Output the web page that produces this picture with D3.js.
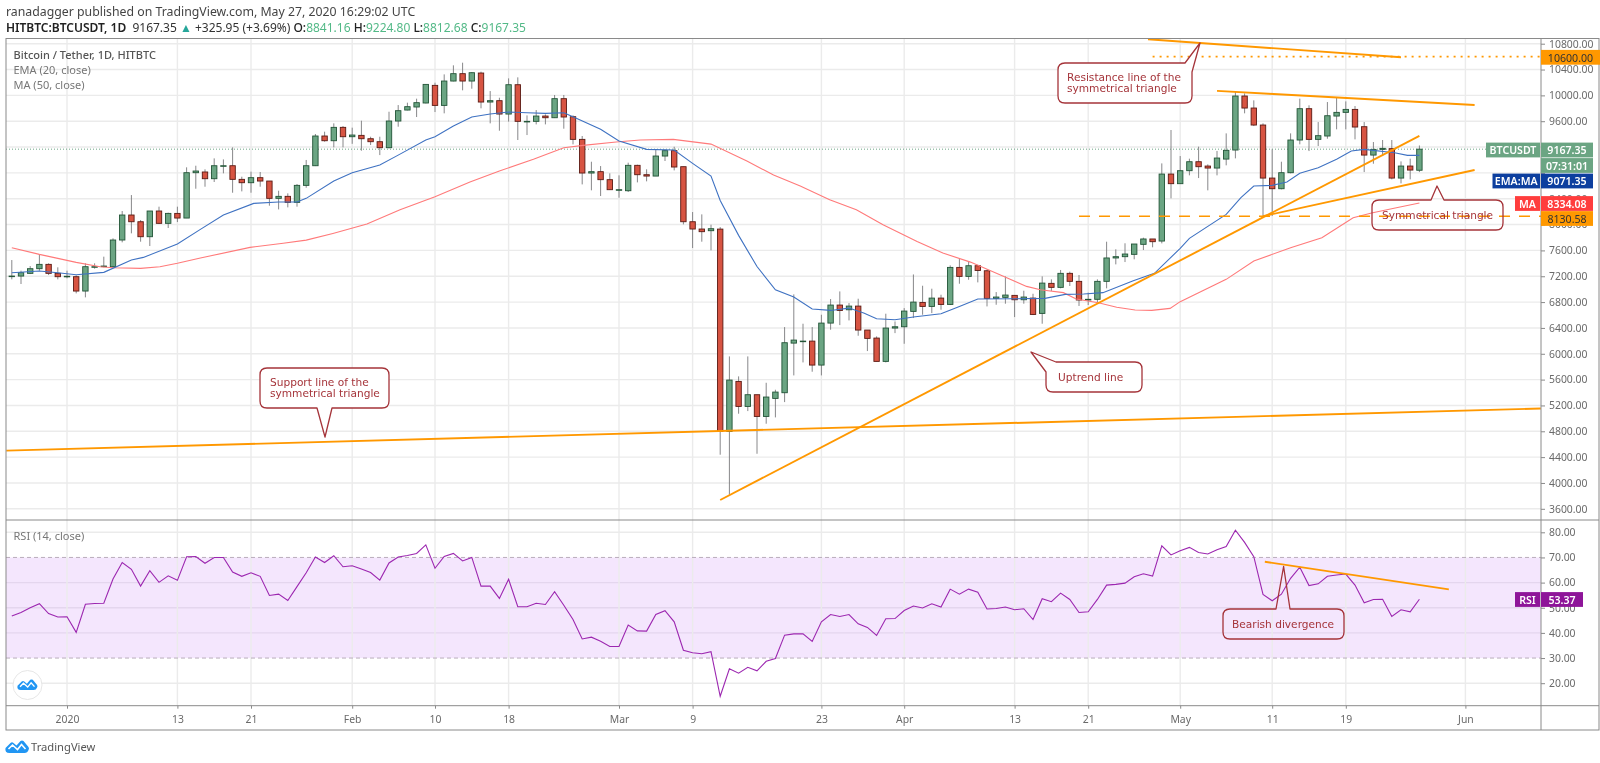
<!DOCTYPE html>
<html><head><meta charset="utf-8">
<script src="https://cdn.jsdelivr.net/npm/d3@7/dist/d3.min.js"></script>
<style>html,body{margin:0;padding:0;background:#fff}svg{display:block;filter:blur(.3px)}</style>
</head><body><svg id="c" width="1600" height="763"></svg>
<script>
// ---- Data. Day 0 is 1 Jan 2020; the first candle is day -6.
const firstDay = -6;
const opens = [7203,7203,7245,7317,7384,7245,7193,7193,6971,7348,7350,7348,7761,8148,8044,7812,8210,8019,8173,8101,8803,8814,8710,8911,8911,8700,8648,8726,8674,8406,8437,8344,8607,8911,9371,9298,9505,9360,9381,9329,9283,9190,9603,9773,9820,9882,10155,9845,10222,10336,10222,10346,9897,9918,9711,10165,9598,9598,9680,9654,9949,9670,9319,8798,8819,8695,8535,8524,8917,8772,8751,9061,9144,8896,8044,7931,7905,7930,4798,5572,5185,5366,5030,5309,5397,6165,6196,6196,5825,6475,6754,6681,6738,6367,6243,5882,6398,6418,6656,6795,6733,6862,6764,7337,7198,7363,7285,6857,6873,6904,6836,6862,6625,7090,7028,7245,7121,6832,6843,7121,7483,7503,7539,7694,7777,7745,8782,8633,8834,8973,8906,8875,9014,9154,9990,9804,9541,8720,8555,8803,9309,9794,9319,9371,9680,9737,9783,9515,9076,9164,9175,8720,8906,8841];
const closes = [7203,7255,7317,7384,7245,7193,7200,6971,7348,7348,7358,7761,8148,8044,7812,8210,8019,8173,8101,8803,8829,8710,8911,8911,8700,8648,8726,8674,8406,8437,8344,8607,8911,9371,9298,9505,9360,9386,9329,9283,9190,9603,9763,9825,9887,10170,9845,10222,10336,10222,10351,9897,9918,9711,10165,9598,9598,9680,9654,9949,9665,9319,8798,8819,8695,8540,8540,8917,8772,8751,9061,9144,8891,8044,7931,7890,7936,4798,5593,5185,5366,5030,5330,5407,6171,6212,6196,5825,6475,6754,6671,6738,6367,6238,5882,6398,6418,6661,6800,6733,6862,6764,7337,7198,7363,7290,6857,6878,6909,6836,6878,6609,7094,7028,7245,7121,6832,6843,7121,7483,7503,7544,7699,7777,7735,8782,8633,8834,8973,8896,8875,9030,9149,9990,9804,9541,8720,8555,8803,9309,9794,9319,9376,9685,9737,9783,9510,9076,9164,9180,8720,8906,8844,9167.35];
const highs = [7451,7286,7358,7544,7400,7338,7286,7214,7400,7400,7503,7787,8210,8457,8070,8210,8277,8184,8277,8886,8911,8855,9025,9009,9195,8741,8819,8814,8674,8524,8483,8628,9000,9402,9438,9567,9525,9500,9608,9360,9360,9747,9850,9887,9949,10170,10196,10325,10465,10506,10361,10367,10067,9964,10263,10279,9690,9773,9706,10006,10006,9691,9371,8973,8906,8793,8762,8958,8927,8855,9164,9164,9205,8896,8194,8158,7998,7961,5959,5650,5959,5366,5551,5443,6413,6919,6465,6413,6604,6847,6965,6785,6852,6367,6269,6620,6500,6707,7228,7053,7007,6914,7368,7466,7430,7378,7301,6955,7198,6904,6976,6929,7198,7152,7297,7271,7219,6946,7152,7735,7617,7710,7699,7797,7777,8947,9464,9061,9020,9206,8932,9139,9412,10057,10031,9923,9567,9164,8973,9412,9949,9846,9587,9897,9964,9907,9835,9587,9278,9309,9309,8978,9020,9224.8];
const lows = [7152,7080,7234,7286,7219,7152,7168,6935,6873,7317,7338,7322,7725,7864,7735,7668,8008,7947,8039,8101,8555,8586,8659,8793,8493,8514,8493,8586,8292,8235,8266,8277,8570,8906,9283,9195,9195,9250,9144,9231,9076,9180,9515,9768,9665,9876,9742,9722,10217,10078,10103,9800,9567,9453,9593,9309,9386,9551,9551,9649,9484,9242,8622,8530,8442,8535,8416,8504,8653,8669,8751,8984,8839,8003,7637,7735,7601,4437,3818,5072,5113,4452,4917,5015,5252,5665,5866,5722,5665,6372,6444,6516,6279,6042,5882,5866,6320,6155,6553,6604,6630,6682,6754,7084,7146,7105,6733,6759,6775,6568,6775,6599,6465,6972,7013,7049,6740,6755,6801,7013,7384,7420,7462,7606,7648,7709,8406,8628,8762,8720,8530,8762,8917,9025,9722,9525,8132,8132,8545,8793,9242,9138,9216,9329,9474,9474,9319,8813,8942,9061,8700,8638,8700,8812.68];

const emaDays = [-6,-3,-1,1,4,7,8.3,12,14.5,17,20.3,23,25,26,29,31,34,36,39,40,42,44,46,48,50,52,54,55,58,60,63,66,68,70,71,73,75,77,79,81,83,85,86.6,88,90,92,95,97,99,103,106.3,108.5,110.5,112.6,115.9,118.2,121,122,126,127.6,129,131,132.6,134,136,138,139.6,141,144.3,145.7,147];
const emaValues = [7255,7281,7255,7224,7260,7451,7492,7699,7926,8148,8328,8349,8349,8406,8674,8803,8922,9075,9309,9360,9525,9665,9711,9742,9732,9722,9732,9670,9474,9293,9164,9154,8948,8751,8374,7833,7350,6989,6878,6692,6671,6707,6630,6542,6527,6568,6620,6733,6847,6852,6858,6920,6925,6946,7132,7245,7632,7787,8158,8416,8597,8607,8659,8793,8880,9010,9138,9164,9113,9071,9071.35];
const maDays = [-6,-3,1,3.6,5,8,10.1,12,14.5,19.9,23.5,26,28.9,32.6,36.2,40,43.8,47,50.7,54,56.1,59.7,62.3,65.9,70,73.9,76.8,79.7,82.9,85.8,88.7,92.4,95.2,98.2,101.4,104.3,105.8,108.3,109.7,112.1,114.1,116.1,117.9,119.9,121,126,129,133,136.4,139.8,141.8,144.5,147];
const maValues = [7642,7539,7415,7348,7332,7322,7348,7400,7482,7647,7710,7759,7863,8008,8231,8432,8659,8830,9010,9190,9226,9278,9309,9319,9246,8984,8767,8597,8384,8230,7997,7739,7559,7419,7223,7043,6991,6946,6848,6791,6719,6678,6672,6703,6807,7152,7436,7642,7797,8106,8180,8261,8334.08];
const rsiValues = [46.7,48.1,50,51.6,47.7,46.3,46.4,40.2,51.4,51.7,51.8,61.4,68,65.3,58.6,64.7,60.1,62.7,60.9,70.3,70.4,67.7,70,70,64.2,62.5,63.9,62.5,54.9,55.4,52.9,58.4,63.9,70.2,68,70.7,66.3,66.7,65.4,64,61,67.8,70.2,70.8,71.6,75,65.7,70.4,71.6,68.6,70,58.6,58.6,53.7,61.3,50.4,50.4,51.8,51.3,56.4,51,45.3,37.6,38.3,36.7,34.6,34.6,43.1,40.8,40.7,47.3,48.8,44.4,33.1,32.1,31.7,32.5,14.8,25.7,24,26.3,24.9,28.7,29.8,39.1,39.6,39.6,36.6,44.4,47.3,46.5,47.3,43.6,42.2,39,45.6,45.7,48.9,50.7,49.9,51.6,50.3,57.4,55.4,57.4,56.2,49.5,49.7,50.3,49.2,49.6,45.3,53.6,52.4,55.8,53.3,48.1,48.4,53.3,59,59.3,59.8,62.3,63.5,62.6,74.6,71,72.7,74,72,71.4,73.1,74.3,80.8,76,70.3,55.3,52.8,55.4,61.7,66.1,58.8,59.5,62.5,63,63.4,59,52,53.3,53.4,46.5,49.2,48.4,53.37];

const priceTicks = [10800,10400,10000,9600,9200,8800,8400,8000,7600,7200,6800,6400,6000,5600,5200,4800,4400,4000,3600];
const hiddenPriceLabels = [9200,8800];
const rsiTicks = [80,70,60,50,40,30,20];
const dateTickDays = [0,12,20,31,40,48,60,68,82,91,103,111,121,131,139,152];
const dateTickLabels = ["2020","13","21","Feb","10","18","Mar","9","23","Apr","13","21","May","11","19","Jun"];

// [dayA, priceA, dayB, priceB]
const trendLines = [[-6.6,4500,160.2,5153],[71,3736,147,9373],[130,8130,153,8845],[125,10070,153,9850],[117.5,10868,145,10590]];
const rsiTrend = [130.2,68.3,150.2,57.3];
const lastPrice = 9167.35, level1 = 10600, level2 = 8130.58;

// ---- Layout
const W=1600, L=6, R=1541, RF=1599, T=38.5, B1=520, B2=705.7, B3=730;
const stepX = 9.2, zeroX = 67;
const dayDate = d => new Date(Date.UTC(2020,0,1) + d*864e5);
const x = d3.scaleUtc().domain([dayDate(0),dayDate(152)]).range([zeroX,zeroX+152*stepX]);
const xd = d => x(dayDate(d));
const y = d3.scaleLinear().domain([10800,3600]).range([43.7,508.8]);
const yr = d3.scaleLinear().domain([80,20]).range([532.3,683.2]);

const GREEN="#6ba583",GREEND="#225437",RED="#d75442",REDD="#5b1a13",WICK="#737375",ORANGE="#ff9800",CALL="#a5343a",GRID="#ebebeb",AX="#8a8a8a",LBL="#6a6a6a";
const FONT="'Noto Sans',sans-serif", CF="'DejaVu Sans',sans-serif";

const svg=d3.select("#c");
const defs=svg.append("defs");
defs.append("clipPath").attr("id","m").append("rect").attr("x",L).attr("y",T).attr("width",R-L).attr("height",B1-T);
defs.append("clipPath").attr("id","r").append("rect").attr("x",L).attr("y",B1).attr("width",R-L).attr("height",B2-B1);

// header text
function txt(g,s,xx,yy,opt={}){return g.append("text").attr("x",xx).attr("y",yy).attr("font-family",opt.f||FONT).attr("font-size",opt.s||11).attr("fill",opt.c||"#333").attr("font-weight",opt.w||400).attr("text-anchor",opt.a||"start").attr("dominant-baseline","central").text(s);}
const head=svg.append("g");
txt(head,"ranadagger published on TradingView.com, May 27, 2020 16:29:02 UTC",6,11,{s:12.3,c:"#444"});
const l2=head.append("text").attr("x",6).attr("y",26.5).attr("font-family",FONT).attr("font-size",12).attr("fill","#333").attr("dominant-baseline","central");
const parts=[["HITBTC:BTCUSDT, 1D","#222",600],["  9167.35 ","#333",400],["▲","#26a69a",400],[" +325.95 (+3.69%) ","#333",400],["O:","#222",500],["8841.16","#53b987",400],[" H:","#222",500],["9224.80","#53b987",400],[" L:","#222",500],["8812.68","#53b987",400],[" C:","#222",500],["9167.35","#53b987",400]];
l2.attr("xml:space","preserve").style("white-space","pre");
parts.forEach(p=>l2.append("tspan").attr("fill",p[1]).attr("font-weight",p[2]).text(p[0]));

// RSI band
const band=svg.append("g");
band.append("rect").attr("x",L).attr("width",R-L).attr("y",yr(70)).attr("height",yr(30)-yr(70)).attr("fill","#f4e6fd");

// grids
const grid=svg.append("g").attr("stroke",GRID).attr("stroke-width",1.4);
grid.selectAll(".h").data(priceTicks).join("line").attr("x1",L).attr("x2",R).attr("y1",d=>y(d)).attr("y2",d=>y(d));
grid.selectAll(".r").data(rsiTicks.filter(d=>d!==70&&d!==30)).join("line").attr("x1",L).attr("x2",R).attr("y1",d=>yr(d)).attr("y2",d=>yr(d)).attr("stroke",d=>(d<70&&d>30)?"#e4d6ee":GRID);
grid.selectAll(".v").data(dateTickDays).join("line").attr("x1",d=>xd(d)).attr("x2",d=>xd(d)).attr("y1",T).attr("y2",B2);
const dash=svg.append("g").attr("stroke","#b9aebb").attr("stroke-width",1).attr("stroke-dasharray","4 3");
dash.selectAll("line").data([70,30]).join("line").attr("x1",L).attr("x2",R).attr("y1",d=>yr(d)).attr("y2",d=>yr(d));

// main pane
const main=svg.append("g").attr("clip-path","url(#m)");
main.append("line").attr("x1",L).attr("x2",R).attr("y1",y(lastPrice)).attr("y2",y(lastPrice)).attr("stroke",GREEN).attr("stroke-width",1).attr("stroke-dasharray","1 2");

const idx=opens.map((_,i)=>i);
const bw=5.4;
main.append("g").selectAll("line").data(idx).join("line")
 .attr("x1",i=>xd(firstDay+i)).attr("x2",i=>xd(firstDay+i)).attr("y1",i=>y(highs[i])).attr("y2",i=>y(lows[i])).attr("stroke",WICK).attr("stroke-width",1).attr("stroke-opacity",.85);
main.append("g").selectAll("rect").data(idx).join("rect")
 .attr("x",i=>xd(firstDay+i)-bw/2).attr("width",bw)
 .attr("y",i=>y(Math.max(opens[i],closes[i])))
 .attr("height",i=>Math.max(0.6,Math.abs(y(opens[i])-y(closes[i]))))
 .attr("fill",i=>closes[i]>=opens[i]?GREEN:RED)
 .attr("stroke",i=>closes[i]>=opens[i]?GREEND:REDD).attr("stroke-width",.9);

const ln=d3.line().x(d=>xd(d[0])).y(d=>y(d[1]));
main.append("path").attr("d",ln(maDays.map((d,i)=>[d,maValues[i]]))).attr("fill","none").attr("stroke","#ff7a7a").attr("stroke-width",1.1);
main.append("path").attr("d",ln(emaDays.map((d,i)=>[d,emaValues[i]]))).attr("fill","none").attr("stroke","#3f72c2").attr("stroke-width",1.1);

main.append("g").selectAll("line").data(trendLines).join("line").attr("x1",d=>xd(d[0])).attr("y1",d=>y(d[1])).attr("x2",d=>xd(d[2])).attr("y2",d=>y(d[3])).attr("stroke",ORANGE).attr("stroke-width",1.9);
main.append("line").attr("x1",xd(118)).attr("x2",R).attr("y1",y(level1)).attr("y2",y(level1)).attr("stroke",ORANGE).attr("stroke-width",1.6).attr("stroke-dasharray","2 5");
main.append("line").attr("x1",xd(110)).attr("x2",R).attr("y1",y(level2)).attr("y2",y(level2)).attr("stroke",ORANGE).attr("stroke-width",1.5).attr("stroke-dasharray","11 9");

// RSI pane
const rg=svg.append("g").attr("clip-path","url(#r)");
rg.append("path").attr("d",d3.line().x((d,i)=>xd(firstDay+i)).y(d=>yr(d))(rsiValues)).attr("fill","none").attr("stroke","#9c27b0").attr("stroke-width",1.1);
rg.append("line").attr("x1",xd(rsiTrend[0])).attr("y1",yr(rsiTrend[1])).attr("x2",xd(rsiTrend[2])).attr("y2",yr(rsiTrend[3])).attr("stroke",ORANGE).attr("stroke-width",1.9);

// callouts: a rounded box whose outline detours to a pointer tip
function callout(o){
  const g=svg.append("g"), r=7, {x0,y0,x1,y1,tail}=o, p=d3.path();
  if(tail.side==="left"){p.moveTo(tail.a,y0);}else{p.moveTo(x0+r,y0);}
  if(tail.side==="top"){p.lineTo(tail.a,y0);p.lineTo(tail.tx,tail.ty);p.lineTo(tail.b,y0);}
  if(tail.side==="tr"){p.lineTo(tail.a,y0);p.lineTo(tail.tx,tail.ty);p.lineTo(x1,tail.b);}
  else{p.lineTo(x1-r,y0);p.quadraticCurveTo(x1,y0,x1,y0+r);}
  p.lineTo(x1,y1-r);p.quadraticCurveTo(x1,y1,x1-r,y1);
  if(tail.side==="bottom"){p.lineTo(tail.b,y1);p.lineTo(tail.tx,tail.ty);p.lineTo(tail.a,y1);}
  p.lineTo(x0+r,y1);p.quadraticCurveTo(x0,y1,x0,y1-r);
  if(tail.side==="left"){p.lineTo(x0,tail.b);p.lineTo(tail.tx,tail.ty);}
  else{p.lineTo(x0,y0+r);p.quadraticCurveTo(x0,y0,x0+r,y0);}
  p.closePath();
  g.append("path").attr("d",p.toString()).attr("fill",o.fill).attr("stroke",CALL).attr("stroke-width",1.3).attr("stroke-linejoin","round");
  o.lines.forEach((t,i)=>txt(g,t,o.tx,o.ty+i*11,{f:CF,s:o.size||10.6,c:CALL}));
}
callout({x0:1058,y0:63,x1:1192,y1:103,fill:"#fff",tail:{side:"tr",a:1185,b:72,tx:1200,ty:43},lines:["Resistance line of the","symmetrical triangle"],tx:1067,ty:77});
callout({x0:260,y0:368,x1:389,y1:408,fill:"#fff",tail:{side:"bottom",a:317,b:332,tx:325,ty:437},lines:["Support line of the","symmetrical triangle"],tx:270,ty:381.5});
callout({x0:1046,y0:362,x1:1142,y1:392,fill:"#fff",tail:{side:"left",a:1056,b:372,tx:1031,ty:352},lines:["Uptrend line"],tx:1058,ty:377});
callout({x0:1372,y0:200,x1:1503,y1:230,fill:"none",tail:{side:"top",a:1431,b:1444,tx:1437,ty:186},lines:["Symmetrical triangle"],tx:1382,ty:214.5});
callout({x0:1223,y0:609,x1:1344,y1:639,fill:"none",tail:{side:"top",a:1276,b:1290,tx:1283.6,ty:566.5},lines:["Bearish divergence"],tx:1232,ty:623.5});

// legends
const leg=svg.append("g");
txt(leg,"Bitcoin / Tether, 1D, HITBTC",13.5,54,{s:11,c:"#555",w:500});
txt(leg,"EMA (20, close)",13.5,69,{s:11,c:"#777"});
txt(leg,"MA (50, close)",13.5,84,{s:11,c:"#777"});
txt(leg,"RSI (14, close)",13.5,535.5,{s:11,c:"#777"});

// axes
function styleAxis(g){g.select(".domain").remove();g.selectAll("line").attr("stroke",AX);g.selectAll("text").attr("fill",LBL).attr("font-family",FONT).attr("font-size",10.4);}
svg.append("g").attr("transform",`translate(${R},0)`).call(d3.axisRight(y).tickValues(priceTicks).tickSize(4).tickPadding(4).tickFormat(d=>hiddenPriceLabels.includes(d)?"":d3.format(".2f")(d))).call(styleAxis);
svg.append("g").attr("transform",`translate(${R},0)`).call(d3.axisRight(yr).tickValues(rsiTicks).tickSize(4).tickPadding(4).tickFormat(d3.format(".2f"))).call(styleAxis);
svg.append("g").attr("transform",`translate(0,${B2})`).call(d3.axisBottom(x).tickValues(dateTickDays.map(dayDate)).tickSize(3).tickPadding(7).tickFormat((d,i)=>dateTickLabels[i])).call(styleAxis);

// frames
const fr=svg.append("g").attr("stroke",AX).attr("stroke-width",1).attr("fill","none");
fr.append("rect").attr("x",L).attr("y",T).attr("width",RF-L).attr("height",B3-T);
fr.append("line").attr("x1",L).attr("x2",RF).attr("y1",B1).attr("y2",B1);
fr.append("line").attr("x1",L).attr("x2",RF).attr("y1",B2).attr("y2",B2);
fr.append("line").attr("x1",R).attr("x2",R).attr("y1",T).attr("y2",B3);

// axis labels
function tag(x0,x1,cy,fill,text,col,bold){
  svg.append("rect").attr("x",x0).attr("width",x1-x0).attr("y",cy-7.4).attr("height",14.8).attr("fill",fill);
  txt(svg,text,(x0+x1)/2,cy+.3,{s:10.6,c:col,a:"middle",w:bold?600:400});
}
tag(R,1600,57.3,ORANGE,d3.format(".2f")(level1),"#333");
tag(1486,1540,150,GREEN,"BTCUSDT","#fff",1);
tag(R,1593,150,GREEN,d3.format(".2f")(lastPrice),"#fff",1);
tag(R,1593,165.5,GREEN,"07:31:01","#fff",1);
tag(1492.5,1540,181,"#0d3f9f","EMA:MA","#fff",1);
tag(R,1593,181,"#0d3f9f",d3.format(".2f")(emaValues[emaValues.length-1]),"#fff",1);
tag(1515,1540,203.5,"#ff3d3d","MA","#fff",1);
tag(R,1593,203.5,"#ff3d3d",d3.format(".2f")(maValues[maValues.length-1]),"#fff",1);
tag(R,1593,218.5,ORANGE,d3.format(".2f")(level2),"#333");
tag(1515,1540,599.5,"#8e1599","RSI","#fff",1);
tag(R,1583,599.5,"#8e1599",d3.format(".2f")(rsiValues[rsiValues.length-1]),"#fff",1);

// TradingView logos
const cloud="M0 8 L5 3 Q6.5 1.5 8 3 L11 5.5 L15 1 Q16.5 0 18 1 L23 7 Q24 8.5 23 10 Q22 13 19 13 L4 13 Q-1 13 0 8 Z";
svg.append("circle").attr("cx",27.5).attr("cy",685).attr("r",14.5).attr("fill","#fff").attr("stroke","#e6e6e6");
const lg=svg.append("g").attr("transform","translate(17.5,679) scale(.85)");
lg.append("path").attr("d",cloud).attr("fill","#2196f3");
lg.append("path").attr("d","M3 9 L7 5 L12 9.5 L16 4.5 L20 9").attr("fill","none").attr("stroke","#fff").attr("stroke-width",1.6);
const lb=svg.append("g").attr("transform","translate(5.5,740)");
lb.append("path").attr("d",cloud).attr("fill","#2196f3");
lb.append("path").attr("d","M3 9 L7 5 L12 9.5 L16 4.5 L20 9").attr("fill","none").attr("stroke","#fff").attr("stroke-width",1.6);
txt(svg,"TradingView",31,746.5,{s:11.2,c:"#555"});
</script></body></html>
